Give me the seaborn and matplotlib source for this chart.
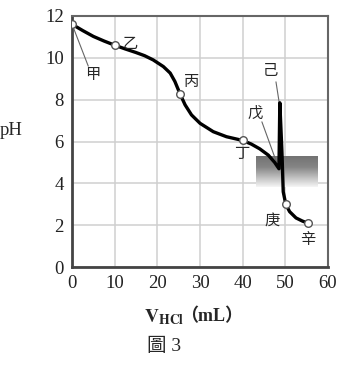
import numpy as np
import pandas as pd
import matplotlib
matplotlib.use("Agg")
import matplotlib.pyplot as plt
import seaborn as sns

# ---- dados ----
v_hcl = [0, 2.5, 5, 7.5, 10, 12.5, 15, 17, 19, 21.4, 23, 24.1, 25.3, 26.5, 28, 30, 33.1, 36.2,
         40, 42, 44, 46, 47.5, 48.5, 48.7, 49.2, 49.5, 50.1, 51, 52.5, 54, 55.3]
ph = [11.6, 11.3, 11.02, 10.8, 10.6, 10.42, 10.25, 10.1, 9.9, 9.58, 9.27, 8.87, 8.28, 7.75, 7.27, 6.87, 6.47, 6.23,
      6.05, 5.88, 5.65, 5.35, 5.0, 4.7, 7.85, 5.5, 3.6, 3.0, 2.65, 2.35, 2.2, 2.1]

pontos_nome = ['甲', '乙', '丙', '丁', '庚', '辛']
pontos_x = [0, 10, 25.3, 40, 50.1, 55.3]
pontos_y = [11.6, 10.6, 8.28, 6.05, 3.0, 2.1]

rotulos = ['甲', '乙', '丙', '丁', '戊', '己', '庚', '辛']
rotulos_x = [4.9, 13.6, 28.1, 39.8, 42.9, 46.4, 46.8, 55.3]
rotulos_y = [9.2, 10.7, 8.85, 5.45, 7.37, 9.4, 2.25, 1.3]

# linhas de chamada: (x0, y0, x1, y1)
chamadas = [(0, 11.6, 3.8, 9.6), (44.5, 6.94, 48.4, 4.75), (47.8, 8.85, 48.6, 7.8)]

# faixa cinza (x0, x1, y0, y1)
faixa = (43.1, 57.4, 3.83, 5.31)

xticks = [0, 10, 20, 30, 40, 50, 60]
yticks = [0, 2, 4, 6, 8, 10, 12]

# ---- estilo ----
sns.set_style("whitegrid", {"grid.color": "#cfcfcf"})
plt.rcParams['font.family'] = ['Liberation Serif', 'Noto Sans CJK TC']
plt.rcParams['mathtext.fontset'] = 'stix'

fig = plt.figure(figsize=(3.55, 3.70), dpi=100)
ax = fig.add_axes([0.203, 0.278, 0.721, 0.679])

df = pd.DataFrame({'V': v_hcl, 'pH': ph})
sns.lineplot(data=df, x='V', y='pH', sort=False, color='black', linewidth=2.4,
             ax=ax, zorder=4)

pts = pd.DataFrame({'V': pontos_x, 'pH': pontos_y, 'nome': pontos_nome})
sns.scatterplot(data=pts, x='V', y='pH', s=30, color='white', edgecolor='#555555',
                linewidth=1.0, ax=ax, zorder=5)

# faixa com degradê
grad = np.concatenate([np.linspace(0.45, 0.52, 35), np.linspace(0.52, 0.96, 65)])
ax.imshow(grad.reshape(-1, 1), extent=[faixa[0], faixa[1], faixa[2], faixa[3]],
          cmap='gray', vmin=0, vmax=1, aspect='auto', zorder=3, origin='upper')

for x0, y0, x1, y1 in chamadas:
    ax.plot([x0, x1], [y0, y1], color='#666666', linewidth=0.8, zorder=3.5)

for nome, tx, ty in zip(rotulos, rotulos_x, rotulos_y):
    ax.text(tx, ty, nome, fontsize=11, ha='center', va='center',
            family=['Noto Sans CJK TC'], zorder=6)

ax.set_xlim(0, 60)
ax.set_ylim(0, 12)
ax.set_xticks(xticks)
ax.set_yticks(yticks)
ax.tick_params(labelsize=13.5, length=0, pad=6, colors='#222222')
ax.grid(True, linewidth=1.1)

for lado in ['left', 'bottom']:
    ax.spines[lado].set_color('#444444')
    ax.spines[lado].set_linewidth(2)
for lado in ['top', 'right']:
    ax.spines[lado].set_color('#666666')
    ax.spines[lado].set_linewidth(1.5)

ax.set_xlabel('')
ax.set_ylabel('')

fig.text(0.0, 1 - 131 / 370, 'pH', fontsize=13.5, ha='left', va='center')
# rótulo do eixo x em duas partes (mathtext + parênteses de largura total)
fig.text(0.518, 1 - 317 / 370, r'$\mathbf{V}_{\mathbf{HCl}}$', fontsize=14,
         ha='right', va='center')
fig.text(0.508, 1 - 317 / 370, '（mL）', fontsize=13, ha='left', va='center',
         fontweight='bold', family=['Liberation Serif', 'Noto Sans CJK TC'])
fig.text(0.463, 1 - 346 / 370, '圖 3', fontsize=14, ha='center', va='center')

plt.savefig('out.png', dpi=100)
